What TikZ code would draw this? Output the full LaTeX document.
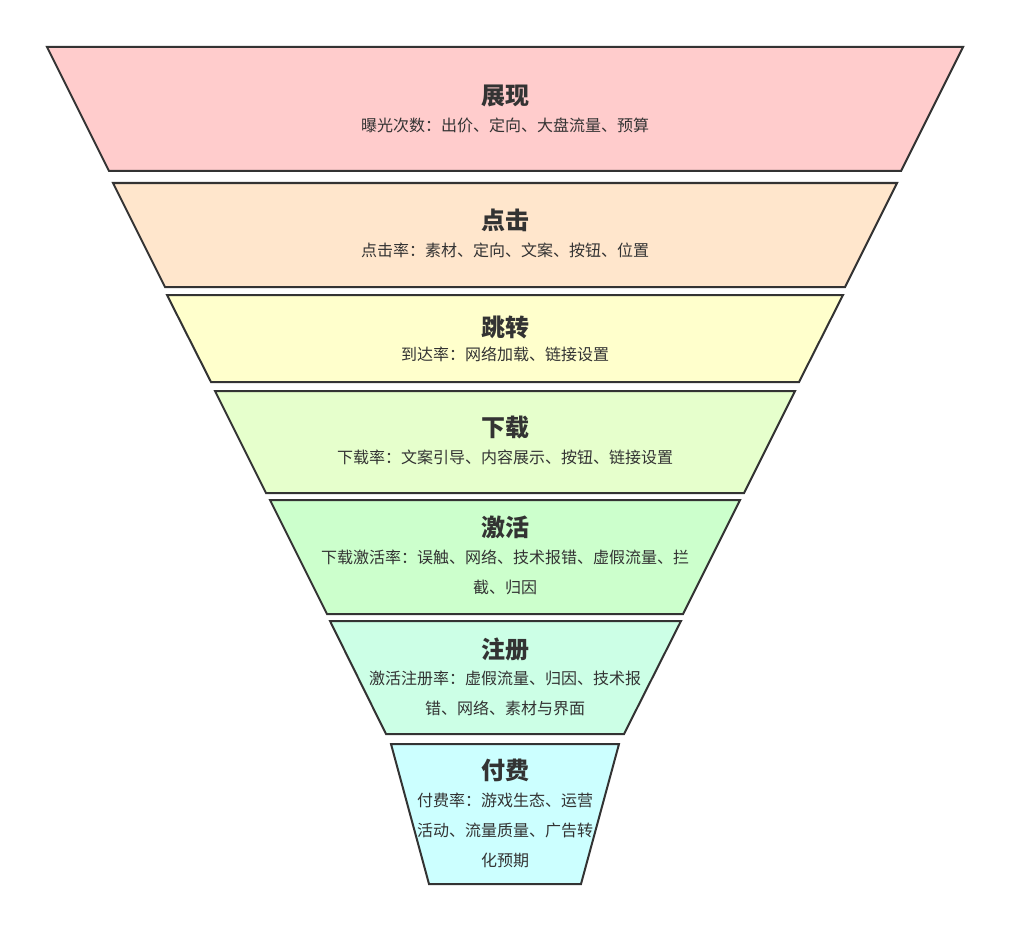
\documentclass[tikz,border=0pt]{standalone}
\usepackage{fontspec}
\setmainfont{Noto Sans CJK SC}
\definecolor{edge}{HTML}{333333}
\definecolor{txt}{HTML}{333333}
\definecolor{c1}{HTML}{FFCCCC}
\definecolor{c2}{HTML}{FFE6CC}
\definecolor{c3}{HTML}{FFFFCC}
\definecolor{c4}{HTML}{E6FFCC}
\definecolor{c5}{HTML}{CCFFCC}
\definecolor{c6}{HTML}{CCFFE6}
\definecolor{c7}{HTML}{CCFFFF}
\begin{document}
\begin{tikzpicture}[x=1pt,y=-1pt,
  layer/.style={draw=edge,line width=2pt,line join=miter},
  ttl/.style={text=txt,font=\fontsize{24}{26}\selectfont\bfseries,inner sep=0pt},
  sub/.style={text=txt,font=\fontsize{16}{30}\selectfont,inner sep=0pt,align=center,anchor=north}]
\useasboundingbox[fill=white] (0,0) rectangle (1023,947);
\path[layer,fill=c1] (47,47) -- (963,47) -- (901,171) -- (109,171) -- cycle;
\path[layer,fill=c2] (113,183) -- (897,183) -- (845,287) -- (165,287) -- cycle;
\path[layer,fill=c3] (167,295) -- (843,295) -- (799,382) -- (211,382) -- cycle;
\path[layer,fill=c4] (215,391) -- (795,391) -- (744,493) -- (266,493) -- cycle;
\path[layer,fill=c5] (270,500) -- (740,500) -- (683,614) -- (327,614) -- cycle;
\path[layer,fill=c6] (330,621) -- (681,621) -- (624,734) -- (386,734) -- cycle;
\path[layer,fill=c7] (391,744) -- (619,744) -- (581,884) -- (429,884) -- cycle;
\node[ttl] (t1) at (505,96) {展现};
\node[sub] (s1) at (505,117.5) {曝光次数：出价、定向、大盘流量、预算};
\node[ttl] (t2) at (505,220) {点击};
\node[sub] (s2) at (505,242.5) {点击率：素材、定向、文案、按钮、位置};
\node[ttl] (t3) at (505,327) {跳转};
\node[sub] (s3) at (505,346.5) {到达率：网络加载、链接设置};
\node[ttl] (t4) at (505,428) {下载};
\node[sub] (s4) at (505,449.5) {下载率：文案引导、内容展示、按钮、链接设置};
\node[ttl] (t5) at (505,527) {激活};
\node[sub] (s5) at (505,549.5) {下载激活率：误触、网络、技术报错、虚假流量、拦\\截、归因};
\node[ttl] (t6) at (505,649) {注册};
\node[sub] (s6) at (505,670.5) {激活注册率：虚假流量、归因、技术报\\错、网络、素材与界面};
\node[ttl] (t7) at (505,770) {付费};
\node[sub] (s7) at (505,792.5) {付费率：游戏生态、运营\\活动、流量质量、广告转\\化预期};
\end{tikzpicture}
\end{document}
